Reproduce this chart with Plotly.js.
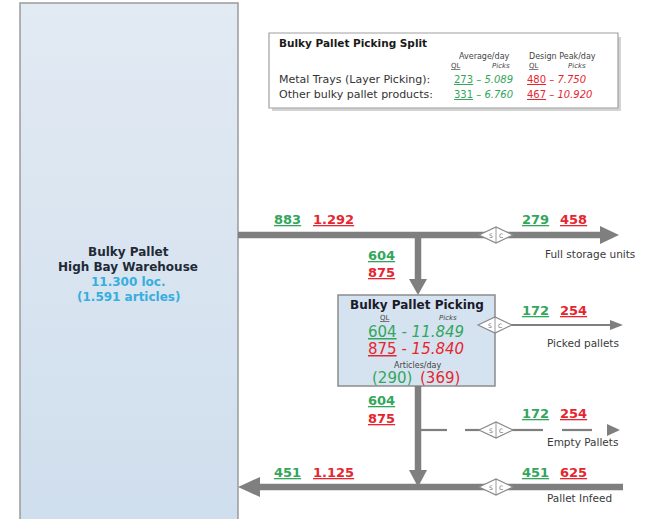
<!DOCTYPE html>
<html>
<head>
<meta charset="utf-8">
<script src="https://cdn.plot.ly/plotly-3.0.1.min.js"></script>
<style>html,body{margin:0;padding:0;background:#fff;}#chart{width:645px;height:519px;}</style>
</head>
<body>
<div id="chart"></div>
<script>
// ---- data ----
const flowNames = ['Warehouse out', 'To picking', 'Full storage units', 'Picked pallets', 'From picking', 'Empty Pallets', 'To warehouse', 'Pallet Infeed'];
const avgQL = [883, 604, 279, 172, 604, 172, 451, 451];
const peakQL = ['1.292', '875', '458', '254', '875', '254', '1.125', '625'];

const splitRows = ['Metal Trays (Layer Picking):', 'Other bulky pallet products:'];
const splitAvgQL = [273, 331];
const splitAvgPicks = ['5.089', '6.760'];
const splitPeakQL = [480, 467];
const splitPeakPicks = ['7.750', '10.920'];

const pickQL = [604, 875];
const pickPicks = ['11.849', '15.840'];
const articlesPerDay = [290, 369];

const warehouseLoc = '11.300';
const warehouseArticles = '1.591';

// ---- styling ----
const GREEN = '#33a65c';
const RED = '#e6262f';
const GREY = '#7f7f7f';
const FONT = '"DejaVu Sans", "Open Sans", sans-serif';

const shapes = [];
const ann = [];

function rect(x0, y0, x1, y1, fill, line, lw, layer) {
  shapes.push({type: 'rect', xref: 'x', yref: 'y', x0, y0, x1, y1, fillcolor: fill, line: {color: line, width: lw}, layer: layer || 'below'});
}
function seg(x0, y0, x1, y1, w) {
  shapes.push({type: 'line', xref: 'x', yref: 'y', x0, y0, x1, y1, line: {color: GREY, width: w}});
}
function poly(pts, fill, line, lw) {
  const d = 'M' + pts.map(p => p[0] + ',' + p[1]).join(' L') + ' Z';
  shapes.push({type: 'path', xref: 'x', yref: 'y', path: d, fillcolor: fill, line: {color: line || fill, width: lw || 0}});
}
function txt(x, y, text, size, color, opts) {
  ann.push(Object.assign({x, y, xref: 'x', yref: 'y', text, showarrow: false,
    font: {family: FONT, size, color}, xanchor: 'center', yanchor: 'middle'}, opts || {}));
}
function diamond(cx, cy) {
  poly([[cx - 17, cy], [cx, cy - 8], [cx + 17, cy], [cx, cy + 8]], '#ffffff', '#8a8a8a', 1.2);
  seg(cx, cy - 8, cx, cy + 8, 0.8);
  txt(cx - 5, cy, 'S', 6, '#666');
  txt(cx + 5, cy, 'C', 6, '#666');
}
function pairH(i, xg, xr, y) {
  txt(xg, y, '<b><u>' + avgQL[i] + '</u></b>', 13, GREEN);
  txt(xr, y, '<b><u>' + peakQL[i] + '</u></b>', 13, RED);
}
function pairV(i, x, yg, yr) {
  txt(x, yg, '<b><u>' + avgQL[i] + '</u></b>', 13, GREEN);
  txt(x, yr, '<b><u>' + peakQL[i] + '</u></b>', 13, RED);
}

// warehouse box border (fill drawn by gradient trace)
rect(20, 3, 238, 530, 'rgba(0,0,0,0)', '#9a9a9a', 1.5, 'above');
txt(128, 252, '<b>Bulky Pallet</b>', 12, '#1f2a36');
txt(128, 267, '<b>High Bay Warehouse</b>', 12, '#1f2a36');
txt(128, 282, '<b>' + warehouseLoc + ' loc.</b>', 12, '#35aee0');
txt(128, 297, '<b>(' + warehouseArticles + ' articles)</b>', 12, '#35aee0');

// split table box (with shadow)
rect(272, 37, 621, 111, '#d4d4d4', '#d4d4d4', 0);
rect(269, 33, 618, 108, '#ffffff', '#a0a0a0', 1.2);
txt(277, 43, '<b>Bulky Pallet Picking Split</b>', 10.5, '#1a1a1a', {xanchor: 'left'});
txt(484, 56, 'Average/day', 8, '#444');
txt(562, 56, 'Design Peak/day', 8, '#444');
txt(456, 66, '<u>QL</u>', 7, '#444');
txt(501, 66, '<i>Picks</i>', 7, '#444');
txt(534, 66, '<u>QL</u>', 7, '#444');
txt(577, 66, '<i>Picks</i>', 7, '#444');
splitRows.forEach((r, i) => {
  const y = 79 + i * 15;
  txt(277, y, r, 11, '#333', {xanchor: 'left'});
  txt(452, y, '<u>' + splitAvgQL[i] + '</u> – <i>' + splitAvgPicks[i] + '</i>', 10, GREEN, {xanchor: 'left'});
  txt(525, y, '<u>' + splitPeakQL[i] + '</u> – <i>' + splitPeakPicks[i] + '</i>', 10, RED, {xanchor: 'left'});
});

// top horizontal flow: warehouse -> full storage units
seg(238, 235, 602, 235, 6.5);
poly([[600, 226], [619, 235], [600, 244]], GREY);
diamond(496, 235);
pairH(0, 287, 333, 219);
pairH(2, 535, 573, 219);
txt(543, 254, 'Full storage units', 10.5, '#3a3a3a', {xanchor: 'left'});

// vertical flow to picking
seg(418, 235, 418, 281, 6.5);
poly([[409, 279], [427, 279], [418, 295]], GREY);
pairV(1, 381, 255, 272);

// picking box
rect(338, 295, 495, 386, '#d5e3f0', '#8c8c8c', 1.5);
txt(417, 305, '<b>Bulky Pallet Picking</b>', 12, '#1a1a2a');
txt(385, 318, '<u>QL</u>', 7, '#444');
txt(448, 318, '<i>Picks</i>', 7, '#444');
pickQL.forEach((q, i) => {
  const c = i === 0 ? GREEN : RED;
  txt(416, 332 + i * 16.5, '<u>' + q + '</u> - <i>' + pickPicks[i] + '</i>', 15, c);
});
txt(418, 365, 'Articles/day', 8, '#444');
txt(392, 378, '(' + articlesPerDay[0] + ')', 15, GREEN);
txt(440, 378, '(' + articlesPerDay[1] + ')', 15, RED);

// picked pallets flow
seg(495, 325, 612, 325, 2.2);
poly([[610, 320], [623, 325], [610, 330]], GREY);
diamond(495, 325);
pairH(3, 535, 573, 310);
txt(545, 343, 'Picked pallets', 10.5, '#3a3a3a', {xanchor: 'left'});

// vertical flow from picking to infeed line
seg(418, 386, 418, 472, 6.5);
poly([[409, 470], [427, 470], [418, 487]], GREY);
pairV(4, 381, 400, 418);

// empty pallets dashed flow
seg(418, 430, 447, 430, 2.2);
seg(465, 430, 480, 430, 2.2);
seg(512, 430, 543, 430, 2.2);
seg(562, 430, 592, 430, 2.2);
poly([[607, 424], [620, 430], [607, 436]], GREY);
diamond(496, 430);
pairH(5, 535, 573, 413);
txt(545, 442, 'Empty Pallets', 10.5, '#3a3a3a', {xanchor: 'left'});

// bottom infeed flow back to warehouse
seg(623, 487, 258, 487, 6.5);
poly([[260, 477], [238, 487], [260, 497]], GREY);
diamond(496, 487);
pairH(6, 287, 333, 472);
pairH(7, 535, 573, 472);
txt(545, 498, 'Pallet Infeed', 10.5, '#3a3a3a', {xanchor: 'left'});

const traces = [{
  x: [20, 238, 238, 20, 20], y: [3, 3, 530, 530, 3],
  type: 'scatter', mode: 'lines', fill: 'toself',
  line: {width: 0, color: 'rgba(0,0,0,0)'},
  fillcolor: '#d8e4f0',
  fillgradient: {type: 'vertical', colorscale: [[0, '#cfdeed'], [1, '#e2eaf3']]},
  hoverinfo: 'skip'
}];

const layout = {
  width: 645, height: 519,
  margin: {l: 0, r: 0, t: 0, b: 0},
  paper_bgcolor: '#ffffff', plot_bgcolor: '#ffffff',
  showlegend: false,
  xaxis: {range: [0, 645], visible: false, fixedrange: true},
  yaxis: {range: [519, 0], visible: false, fixedrange: true},
  shapes, annotations: ann,
  font: {family: FONT}
};

Plotly.newPlot('chart', traces, layout, {staticPlot: true, displayModeBar: false});
</script>
</body>
</html>
